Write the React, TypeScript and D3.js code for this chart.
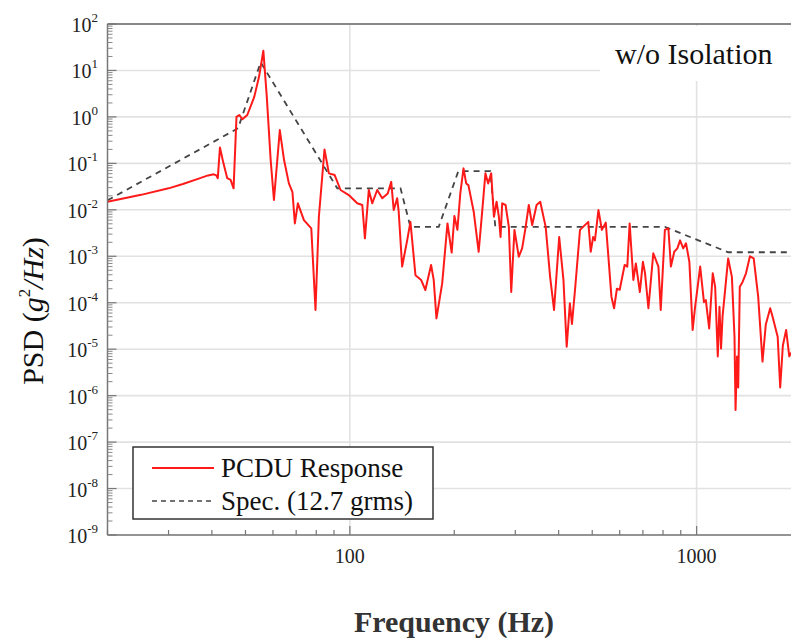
import React from "react";
import * as d3 from "d3";

const respFreq = [20, 25, 30, 33, 37, 39, 40.5, 41.2, 41.6, 42.2, 43.2, 44.3, 45.3, 46.2, 47.1, 48.0, 49.0, 50.6, 53.0, 54.7, 56.3, 57.6, 59.1, 60.4, 62.8, 64.6, 66.7, 68.3, 69.4, 70.8, 73.7, 77.4, 79.6, 81.4, 84.5, 87.0, 90.4, 94.0, 99.3, 105, 108.6, 110.5, 113.4, 116, 119.9, 124, 128.6, 131.6, 133.8, 136.9, 138.3, 141.5, 146.3, 149.5, 154.6, 160.5, 165.1, 171.5, 174.5, 177.7, 184.6, 191.2, 196.6, 200.2, 204.2, 208.2, 212.7, 216.5, 219.7, 227.6, 235.2, 240.5, 246.0, 250.5, 255.6, 260.3, 264.9, 269.0, 272.0, 275, 281.2, 287.4, 292, 298.3, 307, 313.9, 320.9, 328.1, 335.6, 345.5, 354, 367, 378, 388, 401.5, 413, 422, 431, 437, 446, 461, 482, 487, 495, 503, 509, 521, 533, 547, 568, 578, 589, 600, 620, 631, 641, 657, 668, 686, 700, 710, 726, 750, 776, 788, 810, 829, 843, 862, 880, 896, 915, 932, 953, 974, 989, 1024, 1050, 1063, 1087, 1113, 1131, 1151, 1164, 1176, 1188, 1233, 1264, 1286, 1295, 1308, 1318, 1332, 1357, 1388, 1425, 1461, 1505, 1549, 1583, 1630, 1656, 1713, 1742, 1773, 1812, 1850, 1900];
const respPsd = [0.0149, 0.021, 0.029, 0.036, 0.048, 0.055, 0.058, 0.055, 0.048, 0.22, 0.10, 0.048, 0.044, 0.029, 1.0, 1.1, 0.89, 1.1, 2.7, 7.3, 26.6, 2.7, 0.118, 0.0163, 0.52, 0.118, 0.037, 0.024, 0.0051, 0.0138, 0.006, 0.004, 7e-5, 0.0071, 0.2, 0.061, 0.056, 0.0267, 0.0208, 0.0138, 0.0127, 0.00243, 0.0267, 0.0138, 0.0267, 0.0177, 0.0225, 0.040, 0.0099, 0.0177, 0.0091, 0.0006, 0.0022, 0.0055, 0.00039, 0.00031, 0.000188, 0.00065, 0.00031, 4.6e-5, 0.00026, 0.0051, 0.0012, 0.0074, 0.0037, 0.0225, 0.078, 0.037, 0.034, 0.0091, 0.00125, 0.0084, 0.061, 0.037, 0.061, 0.0071, 0.0149, 0.0071, 0.0026, 0.0138, 0.0127, 0.0043, 0.00017, 0.0037, 0.00098, 0.00148, 0.004, 0.0127, 0.0047, 0.0127, 0.0149, 0.0043, 0.00036, 7e-5, 0.0026, 0.00031, 1.13e-5, 9.7e-5, 3.5e-5, 0.00019, 0.0037, 0.0051, 0.0055, 0.00125, 0.0026, 0.0022, 0.0099, 0.0037, 0.0053, 0.000135, 7.6e-5, 0.0002, 0.00019, 0.00065, 0.0006, 0.0051, 0.00031, 0.0007, 0.00017, 0.00076, 0.00043, 7.6e-5, 0.00116, 0.0006, 7e-5, 0.0037, 0.004, 0.0006, 0.00125, 0.00148, 0.0022, 0.00148, 0.0019, 0.00076, 2.6e-5, 7.6e-5, 0.0006, 0.000103, 0.000114, 2.8e-5, 0.00043, 0.00022, 7e-6, 8.2e-5, 1.03e-5, 5e-5, 0.0009, 0.00036, 1.85e-5, 4.9e-7, 7e-6, 1.5e-6, 0.00022, 0.00028, 0.00043, 0.001, 0.0009, 0.000135, 5.4e-6, 3.4e-5, 7.6e-5, 5e-5, 1.85e-5, 1.5e-6, 1.2e-5, 2.6e-5, 7e-6, 1e-5];

const specFreq = [20, 47.6, 55.3, 92, 140, 149.5, 180.4, 205.5, 254, 262.7, 810, 1233, 2000];
const specPsd = [0.016, 0.57, 15, 0.029, 0.029, 0.0043, 0.0043, 0.068, 0.068, 0.0043, 0.0043, 0.00122, 0.00122];

const yExponents = [2, 1, 0, -1, -2, -3, -4, -5, -6, -7, -8, -9];
const xTickValues = [100, 1000];
const xTickLabels = ["100", "1000"];
const legendLabels = ["PCDU Response", "Spec. (12.7 grms)"];
const annotation = "w/o Isolation";

const FONT = "'Liberation Serif', 'Times New Roman', serif";

export default function App() {
  const W = 791, H = 641;
  const left = 107.5, top = 24, bottom = 535, right = 801;
  const x = d3.scaleLog().domain([20, 2000]).range([left, right]);
  const y = d3.scaleLog().domain([1e-9, 1e2]).range([bottom, top]);

  const line = d3.line<[number, number]>().x(d => x(d[0])).y(d => y(d[1]));
  const resp = line(respFreq.map((f, i) => [f, respPsd[i]]) as [number, number][]) || "";
  const spec = line(specFreq.map((f, i) => [f, specPsd[i]]) as [number, number][]) || "";

  const minorY: number[] = [];
  for (let e = -9; e < 2; e++) for (let k = 2; k <= 9; k++) minorY.push(k * Math.pow(10, e));
  const minorX: number[] = [];
  for (let k = 2; k <= 9; k++) minorX.push(k * 10);
  for (let k = 2; k <= 9; k++) minorX.push(k * 100);
  minorX.push(2000);

  return (
    <div style={{ position: "fixed", left: 0, top: 0 }}>
      <svg width={W} height={H} style={{ display: "block", background: "#fff" }} fontFamily={FONT}>
        <defs>
          <clipPath id="plotclip">
            <rect x={left} y={top} width={right - left} height={bottom - top} />
          </clipPath>
        </defs>
        {/* grid */}
        {yExponents.map(e => (
          <line key={"gy" + e} x1={left} x2={right} y1={y(Math.pow(10, e))} y2={y(Math.pow(10, e))} stroke="#e2e2e2" strokeWidth={1.6} />
        ))}
        {xTickValues.map(v => (
          <line key={"gx" + v} x1={x(v)} x2={x(v)} y1={top} y2={bottom} stroke="#e2e2e2" strokeWidth={1.6} />
        ))}
        {/* annotation box */}
        <rect x={600} y={top + 2} width={200} height={55} fill="#fff" />
        <text x={615} y={64} fontSize={30} fill="#111">{annotation}</text>

        {/* curves */}
        <g clipPath="url(#plotclip)">
          <path d={spec} fill="none" stroke="#444" strokeWidth={1.8} strokeDasharray="6,5" />
          <path d={resp} fill="none" stroke="#ff1a1a" strokeWidth={2} strokeLinejoin="round" />
        </g>

        {/* frame */}
        <line x1={left} x2={W} y1={top} y2={top} stroke="#888" strokeWidth={2} />
        <line x1={left} x2={left} y1={top} y2={bottom} stroke="#777" strokeWidth={1.5} />
        <line x1={left} x2={W} y1={bottom} y2={bottom} stroke="#777" strokeWidth={1.5} />

        {/* y ticks */}
        {minorY.map((v, i) => (
          <line key={"my" + i} x1={left} x2={left + 5} y1={y(v)} y2={y(v)} stroke="#888" strokeWidth={1} />
        ))}
        {yExponents.map(e => (
          <g key={"ty" + e}>
            <line x1={left} x2={left + 9} y1={y(Math.pow(10, e))} y2={y(Math.pow(10, e))} stroke="#777" strokeWidth={1.2} />
            <text x={98} y={y(Math.pow(10, e)) + 8} textAnchor="end" fill="#222">
              <tspan fontSize={20}>10</tspan>
              <tspan fontSize={13} dy={-10}>{String(e)}</tspan>
            </text>
          </g>
        ))}
        {/* x ticks */}
        {minorX.map((v, i) => (
          <line key={"mx" + i} x1={x(v)} x2={x(v)} y1={bottom} y2={bottom - 5} stroke="#777" strokeWidth={1.2} />
        ))}
        {xTickValues.map((v, i) => (
          <g key={"tx" + v}>
            <line x1={x(v)} x2={x(v)} y1={bottom} y2={bottom - 9} stroke="#777" strokeWidth={1.2} />
            <text x={x(v)} y={563} textAnchor="middle" fontSize={20} fill="#222">{xTickLabels[i]}</text>
          </g>
        ))}

        {/* legend */}
        <rect x={133} y={447} width={300} height={72} fill="#fff" stroke="#333" strokeWidth={1.5} />
        <line x1={152} x2={214} y1={468} y2={468} stroke="#ff1a1a" strokeWidth={2.2} />
        <text x={221} y={477} fontSize={27} fill="#111">{legendLabels[0]}</text>
        <line x1={152} x2={211} y1={501} y2={501} stroke="#444" strokeWidth={1.6} strokeDasharray="5,4" />
        <text x={221} y={510} fontSize={27} fill="#111">{legendLabels[1]}</text>

        {/* axis titles */}
        <text x={454} y={632} textAnchor="middle" fontSize={30} fontWeight="bold" fill="#333">Frequency (Hz)</text>
        <text transform="translate(43,311) rotate(-90)" textAnchor="middle" fontSize={30} fill="#111">
          <tspan>PSD (</tspan>
          <tspan fontStyle="italic">g</tspan>
          <tspan fontSize={17} dy={-13}>2</tspan>
          <tspan dy={13} fontStyle="italic">/Hz</tspan>
          <tspan>)</tspan>
        </text>
      </svg>
    </div>
  );
}
